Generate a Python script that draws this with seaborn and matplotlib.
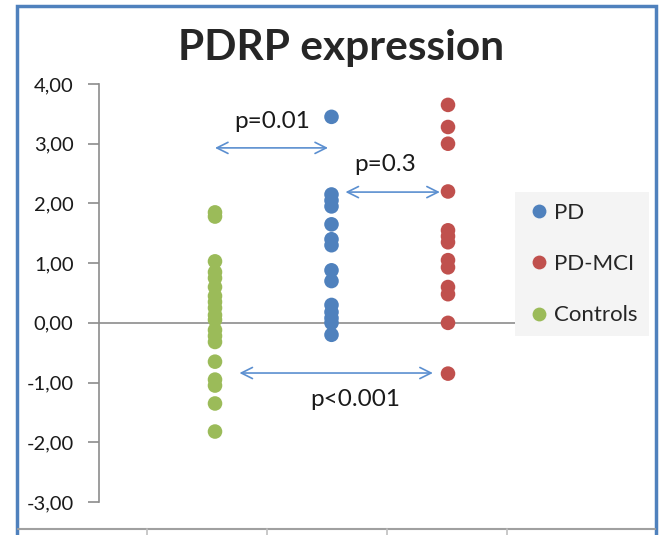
import matplotlib
matplotlib.use("Agg")
import matplotlib.pyplot as plt
import matplotlib.ticker as mticker
from matplotlib.patches import Rectangle
from matplotlib.lines import Line2D
import seaborn as sns
import pandas as pd

# ---- data ----
groups = ["PD", "PD-MCI", "Controls"]
group_x = {"Controls": 1, "PD": 2, "PD-MCI": 3}
pd_values = [3.45, 2.15, 2.05, 1.95, 1.65, 1.40, 1.30, 0.88, 0.70, 0.30, 0.18, 0.08, 0.0, -0.20]
pdmci_values = [3.65, 3.28, 3.00, 2.20, 1.55, 1.45, 1.35, 1.05, 0.93, 0.60, 0.48, 0.0, -0.85]
control_values = [1.85, 1.78, 1.03, 0.85, 0.75, 0.60, 0.45, 0.35, 0.25, 0.13, 0.05,
                  -0.12, -0.22, -0.32, -0.65, -0.95, -1.05, -1.35, -1.82]
colors = {"PD": "#4F81BD", "PD-MCI": "#C0504D", "Controls": "#9BBB59"}
yticks = [-3, -2, -1, 0, 1, 2, 3, 4]
title = "PDRP expression"
pvals = ["p=0.01", "p=0.3", "p<0.001"]

rows = []
for g, vals in (("PD", pd_values), ("PD-MCI", pdmci_values), ("Controls", control_values)):
    for v in vals:
        rows.append({"group": g, "x": group_x[g], "value": v})
df = pd.DataFrame(rows)

sns.set_style("white")
plt.rcParams["font.family"] = ["Lato", "DejaVu Sans"]

fig = plt.figure(figsize=(6.6, 5.35), dpi=100)
W, H = 660, 535
ax_left, ax_right, ax_top, ax_bot = 98.5, 515, 84, 502
ax = fig.add_axes([ax_left / W, 1 - ax_bot / H, (ax_right - ax_left) / W, (ax_bot - ax_top) / H])

sns.scatterplot(data=df, x="x", y="value", hue="group", hue_order=groups,
                palette=colors, s=110, edgecolor="none", ax=ax, legend=True, zorder=3)

ax.set_xlim(0, (ax_right - ax_left) / 116.5)
ax.set_ylim(-3, 4)
ax.set_yticks(yticks)
ax.yaxis.set_major_formatter(mticker.FuncFormatter(lambda v, p: f"{v:.2f}".replace(".", ",")))
ax.set_xticks([])
ax.set_xlabel("")
ax.set_ylabel("")
for s in ("top", "right", "bottom"):
    ax.spines[s].set_visible(False)
ax.spines["left"].set_color("#8c8c8c")
ax.spines["left"].set_linewidth(1.2)
ax.tick_params(axis="y", direction="out", length=8, width=1.2, color="#8c8c8c",
               labelsize=14.5, pad=10, labelcolor="#1a1a1a", left=True)
ax.axhline(0, color="#8c8c8c", lw=1.2, zorder=1)
ax.set_facecolor("none")

# p-value arrows
arrow_c = "#5B8FD0"
arrs = [((1.0, 2.93), (1.97, 2.93)), ((2.12, 2.19), (2.93, 2.19)), ((1.21, -0.84), (2.87, -0.84))]
for (x0, y0), (x1, y1) in arrs:
    ax.annotate("", xy=(x1, y1), xytext=(x0, y0),
                arrowprops=dict(arrowstyle="<->,head_length=0.8,head_width=0.4", color=arrow_c, lw=1.2,
                                shrinkA=0, shrinkB=0), zorder=2)
txt_pos = [(1.49, 3.37), (2.46, 2.65), (2.20, -1.28)]
for t, (tx, ty) in zip(pvals, txt_pos):
    ax.text(tx, ty, t, ha="center", va="center", fontsize=17.5, color="#1a1a1a")

# legend
leg = ax.legend(loc="upper left", bbox_to_anchor=(515 / W, 1 - 192 / H), bbox_transform=fig.transFigure,
                frameon=True, fontsize=16, labelspacing=1.4, handletextpad=0.05, borderpad=0.5,
                markerscale=0.95, handlelength=1.2, borderaxespad=0)
leg.get_frame().set_facecolor("#f2f2f2")
leg.get_frame().set_edgecolor("none")
leg.get_frame().set_boxstyle("square", pad=0)

# title
fig.text(341 / W, 1 - 48 / H, title, ha="center", va="center", fontsize=30.5, fontweight="bold")

# frame and lower decoration
fig.add_artist(Rectangle((17 / W, -0.05), (656 - 17) / W, 1.05 - 6 / H, transform=fig.transFigure,
                         fill=False, edgecolor="#4F81BD", lw=2.5))
fig.add_artist(Line2D([18 / W, 655 / W], [1 - 529 / H] * 2, transform=fig.transFigure, color="#a0a0a0", lw=1.5))
for xt in (147, 267, 387, 507):
    fig.add_artist(Line2D([xt / W] * 2, [1 - 529 / H, 1 - 536 / H], transform=fig.transFigure,
                          color="#c0c0c0", lw=1.2))

fig.savefig("out.png", dpi=100)
